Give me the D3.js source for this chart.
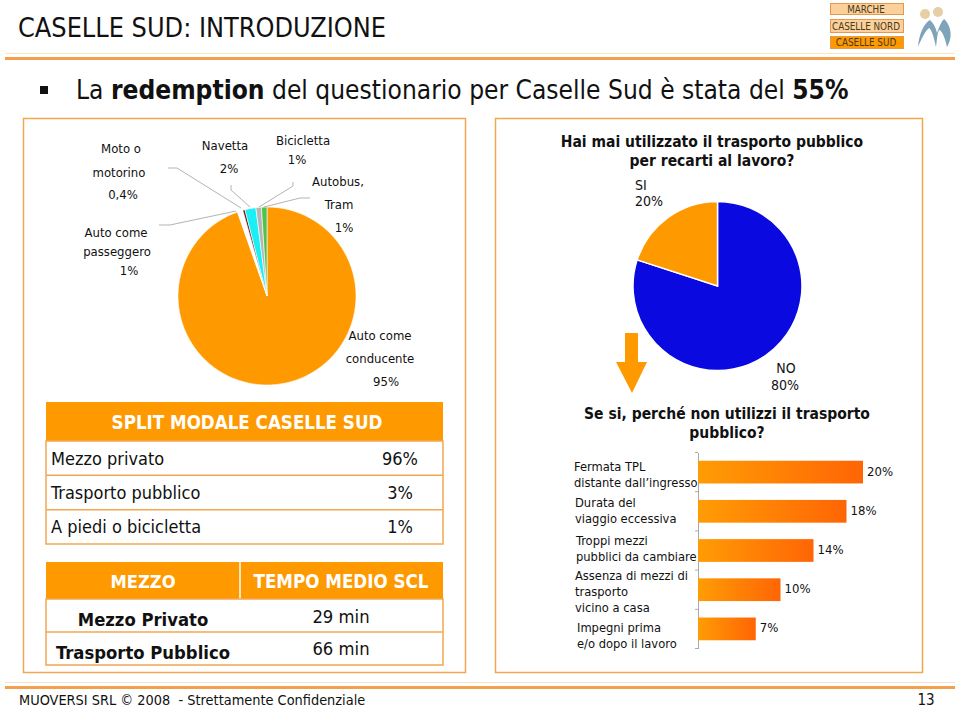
<!DOCTYPE html>
<html>
<head>
<meta charset="utf-8">
<script src="https://cdn.jsdelivr.net/npm/d3@7.9.0/dist/d3.min.js"></script>
<style>
  html, body { margin: 0; padding: 0; background: #fff; }
  svg { display: block; }
  text { font-family: "DejaVu Sans Condensed", "DejaVu Sans", sans-serif; font-stretch: condensed; fill: #111; }
</style>
</head>
<body>
<div id="chart"></div>
<script>
const modeNames = ["Auto come conducente", "Auto come passeggero", "Moto o motorino", "Navetta", "Bicicletta", "Autobus, Tram"];
const modeValues = [95, 1, 0.4, 2, 1, 1];
const modeColors = ["#ff9900", "#ffffff", "#6b0f14", "#19f0f5", "#b5b5b5", "#4fc34f"];

const usedNames = ["NO", "SI"];
const usedValues = [80, 20];
const usedColors = ["#0a0ae0", "#ff9900"];

const reasonNames = ["Fermata TPL distante", "Durata del viaggio", "Troppi mezzi", "Assenza di mezzi", "Impegni"];
const reasonValues = [20, 18, 14, 10, 7];
const reasonLabels = [
  ["Fermata TPL", "distante dall\u2019ingresso"],
  ["Durata del", "viaggio eccessiva"],
  ["Troppi mezzi", "pubblici da cambiare"],
  ["Assenza di mezzi di", "trasporto", "vicino a casa"],
  ["Impegni prima", "e/o dopo il lavoro"],
];

const splitRows = [["Mezzo privato", "96%"], ["Trasporto pubblico", "3%"], ["A piedi o bicicletta", "1%"]];
const timeRows = [["Mezzo Privato", "29 min"], ["Trasporto Pubblico", "66 min"]];
const navItems = ["MARCHE", "CASELLE NORD", "CASELLE SUD"];

const orange = "#ff9900";
const line = "#f2a650";

const svg = d3.select("#chart").append("svg").attr("width", 959).attr("height", 708);

const defs = svg.append("defs");
const grad = defs.append("linearGradient").attr("id", "barGrad");
grad.append("stop").attr("offset", "0%").attr("stop-color", "#ff9c05");
grad.append("stop").attr("offset", "100%").attr("stop-color", "#ff6505");

function label(g, x, y, str, size, opts = {}) {
  return g.append("text")
    .attr("x", x).attr("y", y)
    .attr("text-anchor", opts.anchor || "middle")
    .attr("dominant-baseline", "central")
    .attr("font-size", size)
    .attr("font-weight", opts.bold ? "bold" : null)
    .style("fill", opts.fill || null)
    .text(str);
}

// --- cornice della slide ---
function hrule(y, w, color) {
  svg.append("rect").attr("x", 5).attr("y", y).attr("width", 950).attr("height", w).attr("fill", color);
}
hrule(53, 1, "#fbe3c8");
hrule(57, 3, "#f3a04e");
hrule(682, 1, "#fbe3c8");
hrule(686, 3, "#f3a04e");

label(svg, 18, 27, "CASELLE SUD: INTRODUZIONE", 26.8, { anchor: "start" });
svg.append("rect").attr("x", 40).attr("y", 86).attr("width", 8).attr("height", 8).attr("fill", "#111");

const sub = svg.append("text").attr("x", 76).attr("y", 90).attr("dominant-baseline", "central").attr("font-size", 26.1);
sub.append("tspan").text("La ");
sub.append("tspan").attr("font-weight", "bold").text("redemption");
sub.append("tspan").text(" del questionario per Caselle Sud \u00e8 stata del ");
sub.append("tspan").attr("font-weight", "bold").text("55%");

label(svg, 19, 700, "MUOVERSI SRL \u00a9 2008  - Strettamente Confidenziale", 14.4, { anchor: "start" }).attr("xml:space", "preserve");
label(svg, 926, 700, "13", 15);

// navigazione e logo
const navY = [3, 19, 36];
const navH = [11, 13, 12];
navItems.forEach((d, i) => {
  svg.append("rect").attr("x", 830.5).attr("y", navY[i] + 0.5).attr("width", 73).attr("height", navH[i])
    .attr("fill", i === 2 ? "#ff9900" : "#fbd09a").attr("stroke", "#e59a4a");
  label(svg, 866, navY[i] + navH[i] / 2 + 0.5, d, 9.8, { fill: "#4a3a20" });
});
const logo = svg.append("g");
logo.append("circle").attr("cx", 925).attr("cy", 14).attr("r", 5).attr("fill", "#e6cfa5");
logo.append("circle").attr("cx", 938).attr("cy", 12).attr("r", 5).attr("fill", "#e6cfa5");
logo.append("path").attr("fill", "#7fa3bb")
  .attr("d", "M918,47 C919,34 924,23 930,20 C934,24 936,28 937,33 C939,27 941,22 944,19 C950,24 954,36 947,47 C945,38 942,30 939,30 C937,34 937,40 936,47 C934,38 932,30 929,28 C925,31 921,40 918,47 Z");

// riquadri
[[23, 118, 442, 554], [495, 118, 427, 554]].forEach(([x, y, w, h]) => {
  svg.append("rect").attr("x", x + 0.5).attr("y", y + 0.5).attr("width", w).attr("height", h)
    .attr("fill", "#fff").attr("stroke", line).attr("stroke-width", 1.5);
});

// --- torta ripartizione modale ---
function drawPie(cx, cy, r, values, colors, sep) {
  const g = svg.append("g").attr("transform", `translate(${cx},${cy})`);
  const arcs = d3.pie().sort(null).startAngle(0).endAngle(2 * Math.PI)(values);
  const arc = d3.arc().innerRadius(0).outerRadius(r);
  g.selectAll("path").data(arcs).join("path")
    .attr("d", arc)
    .attr("fill", (d, i) => colors[i])
    .attr("stroke", "#fff")
    .attr("stroke-width", sep);
  return g;
}
drawPie(267, 296, 89, modeValues, modeColors, 0.6);

// linee guida: [gomito..., punto vicino alla fetta]
const leaders = [
  [[168, 168], [177, 168], [241, 208]],
  [[231, 185], [231, 190], [250, 207]],
  [[293, 182], [293, 186], [259, 207]],
  [[310, 198], [300, 198], [264, 207]],
  [[159, 225], [170, 225], [236, 211]],
];
const leaderLine = d3.line();
leaders.forEach((p) => {
  svg.append("path").attr("d", leaderLine(p)).attr("fill", "none").attr("stroke", "#b4b4b4").attr("stroke-width", 1);
});

const pieLabels = [
  ["Moto o", 121, 148], ["motorino", 119, 172], ["0,4%", 123, 194],
  ["Navetta", 225, 145], ["2%", 229, 168],
  ["Bicicletta", 303, 140], ["1%", 297, 159],
  ["Autobus,", 338, 181], ["Tram", 339, 204], ["1%", 344, 227],
  ["Auto come", 116, 232], ["passeggero", 117, 251], ["1%", 129, 270],
  ["Auto come", 380, 335], ["conducente", 380, 358], ["95%", 386, 381],
];
pieLabels.forEach(([t, x, y]) => label(svg, x, y, t, 13));

// --- torta SI / NO ---
label(svg, 712, 142, "Hai mai utilizzato il trasporto pubblico", 15.5, { bold: true });
label(svg, 712, 161, "per recarti al lavoro?", 15.5, { bold: true });
drawPie(717.5, 286, 84.5, usedValues, usedColors, 1.5);
label(svg, 635, 185, "SI", 14, { anchor: "start" });
label(svg, 635, 201, "20%", 14, { anchor: "start" });
label(svg, 786, 368, "NO", 14);
label(svg, 785, 385, "80%", 14);

// freccia
svg.append("path").attr("fill", orange).attr("d", "M625,333 H638 V362 H647 L632,393 L616,362 H625 Z");

// --- tabelle ---
const t1 = svg.append("g");
t1.append("rect").attr("x", 46).attr("y", 402).attr("width", 397).attr("height", 39).attr("fill", orange);
label(t1, 247, 422, "SPLIT MODALE CASELLE SUD", 18.6, { bold: true, fill: "#fff" });
const rowY1 = d3.scaleBand().domain(d3.range(splitRows.length)).range([441, 544]);
t1.append("rect").attr("x", 46).attr("y", 441).attr("width", 397).attr("height", 103).attr("fill", "none").attr("stroke", line).attr("stroke-width", 1.5);
splitRows.forEach(([a, b], i) => {
  if (i) t1.append("line").attr("x1", 46).attr("x2", 443).attr("y1", rowY1(i)).attr("y2", rowY1(i)).attr("stroke", line).attr("stroke-width", 1.5);
  label(t1, 51, rowY1(i) + 17, a, 18, { anchor: "start" });
  label(t1, 400, rowY1(i) + 17, b, 18);
});

const t2 = svg.append("g");
t2.append("rect").attr("x", 46).attr("y", 562).attr("width", 397).attr("height", 37).attr("fill", orange);
t2.append("line").attr("x1", 240).attr("x2", 240).attr("y1", 562).attr("y2", 599).attr("stroke", "#fff").attr("stroke-width", 1.5);
label(t2, 143, 581, "MEZZO", 18.2, { bold: true, fill: "#fff" });
label(t2, 341, 581, "TEMPO MEDIO SCL", 18.6, { bold: true, fill: "#fff" });
t2.append("rect").attr("x", 46).attr("y", 599).attr("width", 397).attr("height", 66).attr("fill", "none").attr("stroke", line).attr("stroke-width", 1.5);
t2.append("line").attr("x1", 46).attr("x2", 443).attr("y1", 632).attr("y2", 632).attr("stroke", line).attr("stroke-width", 1.5);
const time1 = [619, 652];
const time2 = [616, 648];
timeRows.forEach(([a, b], i) => {
  label(t2, 143, time1[i], a, 18.3, { bold: true });
  label(t2, 341, time2[i], b, 18.3);
});

// --- barre ---
label(svg, 727, 414, "Se si, perch\u00e9 non utilizzi il trasporto", 15.5, { bold: true });
label(svg, 727, 433, "pubblico?", 15.5, { bold: true });

const barX = d3.scaleLinear().domain([0, 20]).range([698, 863]);
const barY = d3.scaleBand().domain(reasonNames).range([452.5, 648.5]).paddingInner(0.42).paddingOuter(0.21);
const barG = svg.append("g");
barG.append("g")
  .attr("transform", "translate(698,0)")
  .call(d3.axisLeft(barY).tickSize(0).tickFormat(""))
  .call((a) => a.select(".domain").attr("stroke", "#aaa"));
const bounds = d3.range(reasonNames.length + 1).map((i) => 452.5 + i * barY.step());
barG.selectAll("line.tick").data(bounds).join("line").attr("class", "tick")
  .attr("x1", 695).attr("x2", 698).attr("y1", (d) => d).attr("y2", (d) => d).attr("stroke", "#aaa");
barG.selectAll("rect.bar").data(reasonValues).join("rect").attr("class", "bar")
  .attr("x", barX(0))
  .attr("y", (d, i) => barY(reasonNames[i]))
  .attr("width", (d) => barX(d) - barX(0))
  .attr("height", barY.bandwidth())
  .attr("fill", "url(#barGrad)");
barG.selectAll("text.val").data(reasonValues).join("text").attr("class", "val")
  .attr("x", (d) => barX(d) + 4)
  .attr("y", (d, i) => barY(reasonNames[i]) + barY.bandwidth() / 2 - 1)
  .attr("dominant-baseline", "central")
  .attr("font-size", 13)
  .text((d) => d + "%");

const catX = [574, 575, 576, 575, 577];
const catY = [466, 502.5, 540, 575.5, 627];
reasonLabels.forEach((lines, i) => {
  lines.forEach((t, j) => label(barG, catX[i], catY[i] + j * 16, t, 12.8, { anchor: "start" }));
});
</script>
</body>
</html>
